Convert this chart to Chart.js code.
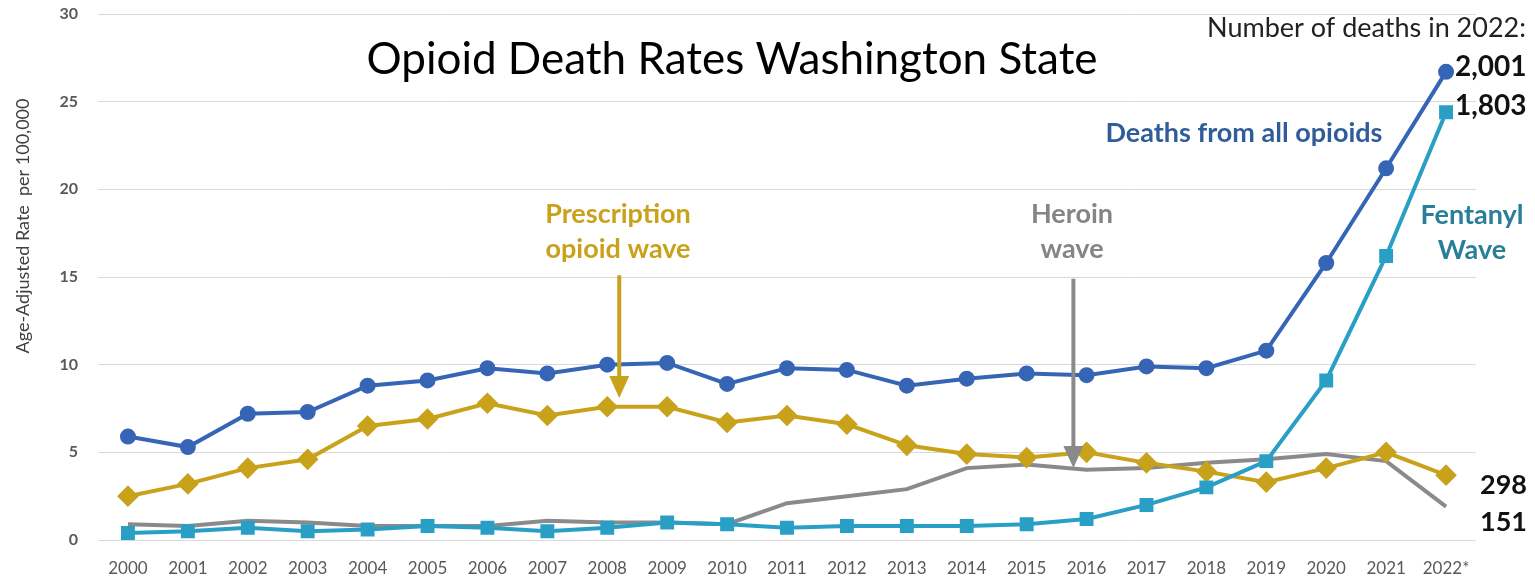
<!doctype html>
<html lang="en">
  <head>
    <meta charset="utf-8">
    <title>Opioid Death Rates Washington State</title>
    <script src="https://cdn.jsdelivr.net/npm/chart.js@4.4.1/dist/chart.umd.min.js"></script>
    <style>
      html, body { margin: 0; padding: 0; background: #fff; }
      #wrap { width: 1535px; height: 580px; position: relative; }
    </style>
  </head>
  <body>
    <div id="wrap">
      <canvas id="opioidChart" width="1535" height="580"></canvas>
    </div>

    <script>
        // years on the x axis
        var years = ['2000','2001','2002','2003','2004','2005','2006','2007','2008','2009','2010',
                     '2011','2012','2013','2014','2015','2016','2017','2018','2019','2020','2021','2022*'];

        // age-adjusted rate per 100,000
        var allOpioids   = [5.9, 5.3, 7.2, 7.3, 8.8, 9.1, 9.8, 9.5, 10.0, 10.1, 8.9,
                            9.8, 9.7, 8.8, 9.2, 9.5, 9.4, 9.9, 9.8, 10.8, 15.8, 21.2, 26.7];
        var fentanyl     = [0.4, 0.5, 0.7, 0.5, 0.6, 0.8, 0.7, 0.5, 0.7, 1.0, 0.9,
                            0.7, 0.8, 0.8, 0.8, 0.9, 1.2, 2.0, 3.0, 4.5, 9.1, 16.2, 24.4];
        var prescription = [2.5, 3.2, 4.1, 4.6, 6.5, 6.9, 7.8, 7.1, 7.6, 7.6, 6.7,
                            7.1, 6.6, 5.4, 4.9, 4.7, 5.0, 4.4, 3.9, 3.3, 4.1, 5.0, 3.7];
        var heroin       = [0.9, 0.8, 1.1, 1.0, 0.8, 0.8, 0.8, 1.1, 1.0, 1.0, 0.9,
                            2.1, 2.5, 2.9, 4.1, 4.3, 4.0, 4.1, 4.4, 4.6, 4.9, 4.5, 1.9];

        // deaths in 2022
        var deaths2022 = ['2,001', '1,803', '298', '151'];

        var yTicks = [0, 5, 10, 15, 20, 25, 30];

        var FONT = 'Lato, "Open Sans", sans-serif';
        var BLUE = '#3565b4';
        var TEAL = '#2a9fc6';
        var GOLD = '#c9a21c';
        var GREY = '#8a8a8a';

        // texts and arrows drawn on top of the chart
        var annotations = {
            id: 'annotations',
            afterDraw: function(chart) {
                var ctx = chart.ctx;
                var x = chart.scales.x;
                var y = chart.scales.y;

                function txt(s, px, py, font, color, align) {
                    ctx.font = font;
                    ctx.fillStyle = color;
                    ctx.textAlign = align || 'center';
                    ctx.textBaseline = 'middle';
                    ctx.fillText(s, px, py);
                }

                function arrow(xv, yFrom, yTo, color) {
                    var px = x.getPixelForValue(xv);
                    var top = y.getPixelForValue(yFrom);
                    var tip = y.getPixelForValue(yTo);
                    ctx.save();
                    ctx.strokeStyle = color;
                    ctx.fillStyle = color;
                    ctx.lineWidth = 4;
                    ctx.beginPath();
                    ctx.moveTo(px, top);
                    ctx.lineTo(px, tip - 18);
                    ctx.stroke();
                    ctx.beginPath();
                    ctx.moveTo(px - 10, tip - 22);
                    ctx.lineTo(px + 10, tip - 22);
                    ctx.lineTo(px, tip);
                    ctx.closePath();
                    ctx.fill();
                    ctx.restore();
                }

                ctx.save();
                // chart title
                txt('Opioid Death Rates Washington State', 732, 60, '44px ' + FONT, '#000');

                // y axis title (sits above the middle of the axis)
                ctx.save();
                ctx.translate(23, 226);
                ctx.rotate(-Math.PI / 2);
                txt('Age-Adjusted Rate  per 100,000', 0, 0, '18px ' + FONT, '#404040');
                ctx.restore();

                txt('Number of deaths in 2022:', 1526, 28, '27px ' + FONT, '#222', 'right');

                var xr = x.getPixelForValue(years.length - 1) + 9;
                txt(deaths2022[0], xr, y.getPixelForValue(allOpioids[22]) - 5, 'bold 28px ' + FONT, '#111', 'left');
                txt(deaths2022[1], xr, y.getPixelForValue(fentanyl[22]) - 6, 'bold 28px ' + FONT, '#111', 'left');
                txt(deaths2022[2], xr + 25, y.getPixelForValue(prescription[22]) + 10, 'bold 27px ' + FONT, '#111', 'left');
                txt(deaths2022[3], xr + 25, y.getPixelForValue(heroin[22]) + 16, 'bold 27px ' + FONT, '#111', 'left');

                txt('Deaths from all opioids', 1244, 133, 'bold 27px ' + FONT, '#2f5d9a');
                txt('Fentanyl', 1472, 215, 'bold 27px ' + FONT, '#2a7f98');
                txt('Wave', 1472, 250, 'bold 27px ' + FONT, '#2a7f98');

                txt('Prescription', 618, 214, 'bold 27px ' + FONT, GOLD);
                txt('opioid wave', 618, 249, 'bold 27px ' + FONT, GOLD);
                txt('Heroin', 1072, 214, 'bold 27px ' + FONT, '#858585');
                txt('wave', 1072, 249, 'bold 27px ' + FONT, '#858585');
                ctx.restore();

                arrow(8.2, 15.1, 8.1, GOLD);
                arrow(15.78, 14.9, 4.1, GREY);
            }
        };

        var ctx = document.getElementById('opioidChart').getContext('2d');

        var chart = new Chart(ctx, {
            type: 'line',
            data: {
                labels: years,
                datasets: [
                    {
                        label: 'Deaths from all opioids',
                        data: allOpioids,
                        borderColor: BLUE,
                        backgroundColor: BLUE,
                        borderWidth: 4,
                        pointStyle: 'circle',
                        pointRadius: 6,
                        tension: 0
                    },
                    {
                        label: 'Fentanyl',
                        data: fentanyl,
                        borderColor: TEAL,
                        backgroundColor: TEAL,
                        borderWidth: 4,
                        pointStyle: 'rect',
                        pointRadius: 7,
                        tension: 0
                    },
                    {
                        label: 'Prescription opioids',
                        data: prescription,
                        borderColor: GOLD,
                        backgroundColor: GOLD,
                        borderWidth: 4,
                        pointStyle: 'rectRot',
                        pointRadius: 8,
                        tension: 0
                    },
                    {
                        label: 'Heroin',
                        data: heroin,
                        borderColor: GREY,
                        backgroundColor: GREY,
                        borderWidth: 4,
                        pointRadius: 0,
                        tension: 0
                    }
                ]
            },
            options: {
                responsive: false,
                animation: false,
                layout: {
                    padding: { top: 14, right: 59, bottom: 0, left: 0 }
                },
                plugins: {
                    legend: { display: false },
                    tooltip: { enabled: false }
                },
                scales: {
                    x: {
                        offset: true,
                        afterFit: function(scale) { scale.height = 40; },
                        grid: { display: false, drawTicks: false },
                        border: { display: false },
                        ticks: {
                            color: '#595959',
                            padding: 18,
                            maxRotation: 0,
                            autoSkip: false,
                            font: { family: FONT, size: 17 }
                        }
                    },
                    y: {
                        min: 0,
                        max: 30,
                        afterFit: function(scale) { scale.width = 98; },
                        afterBuildTicks: function(scale) {
                            scale.ticks = yTicks.map(function(v) { return { value: v }; });
                        },
                        // invisible tick marks keep the labels off the grid without extra top padding
                        grid: { color: '#d9d9d9', lineWidth: 1, drawTicks: true, tickLength: 20, tickColor: 'rgba(0,0,0,0)' },
                        border: { display: false },
                        ticks: {
                            color: '#595959',
                            padding: 0,
                            font: { family: FONT, size: 16, weight: 'bold' }
                        }
                    }
                }
            },
            plugins: [annotations]
        });
    </script>
  </body>
</html>
